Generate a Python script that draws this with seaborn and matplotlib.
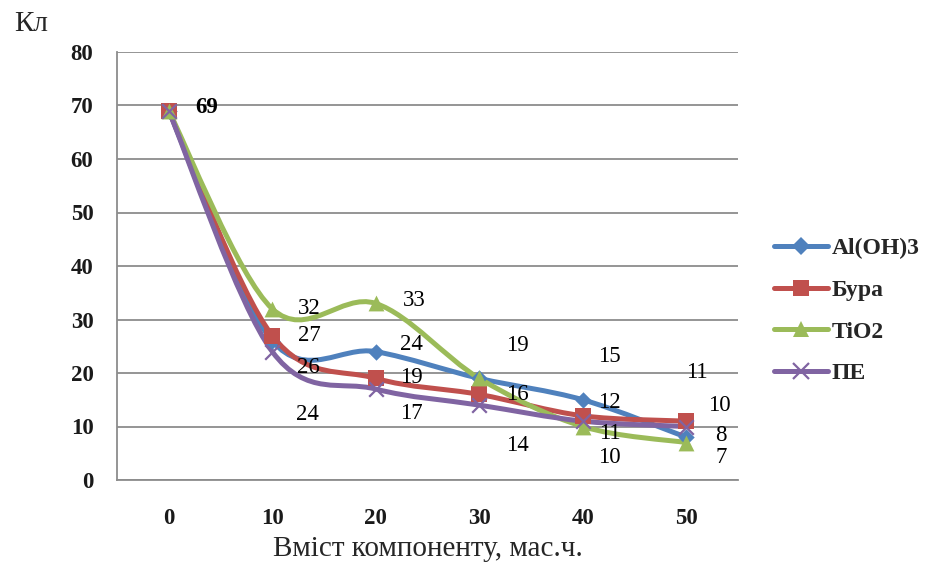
import numpy as np
import pandas as pd
import matplotlib
matplotlib.use("Agg")
import matplotlib.pyplot as plt
import seaborn as sns
from matplotlib.path import Path
from matplotlib.patches import PathPatch
from matplotlib.lines import Line2D

# ---------------- data ----------------
categories = ["0", "10", "20", "30", "40", "50"]
series_names = ["Al(OH)3", "Бура", "TiO2", "ПЕ"]
al_oh3 = [69, 26, 24, 19, 15, 8]
bura = [69, 27, 19, 16, 12, 11]
tio2 = [69, 32, 33, 19, 10, 7]
pe = [69, 24, 17, 14, 11, 10]
y_ticks = [0, 10, 20, 30, 40, 50, 60, 70, 80]

# data-label offsets from their points (pixels: dx right, dy up); None = no label
al_offsets = [(38, 3), (36, -27), (36, 7), (38, 33), (27, 43), (35, 2)]
bura_offsets = [None, (37, 0), (36, 1), (38, 0), (27, 13), (11, 49)]
tio2_offsets = [None, (37, 0), (38, 3), None, (27, -31), (35, -15)]
pe_offsets = [None, (35, -63), (36, -24), (38, -40), (27, -12), (33, 21)]

colors = ["#4F81BD", "#C0504D", "#9BBB59", "#8064A2"]
markers = ["D", "s", "^", "x"]
marker_sizes = [70, 120, 130, 110]

values = [al_oh3, bura, tio2, pe]
offsets = [al_offsets, bura_offsets, tio2_offsets, pe_offsets]

rows = []
for name, vals in zip(series_names, values):
    for i, v in enumerate(vals):
        rows.append({"pos": i, "cat": categories[i], "value": v, "series": name})
df = pd.DataFrame(rows)

# ---------------- style ----------------
sns.set_style("white")
plt.rcParams["font.family"] = ["Liberation Serif", "DejaVu Serif"]

fig = plt.figure(figsize=(9.31, 5.71), dpi=100)
ax = fig.add_axes([117 / 931, 1 - 480 / 571, (738 - 117) / 931, (480 - 52) / 571])

grid_c = "#8C8C8C"


def smooth_path(xs, ys):
    """Excel-like smoothed line: Catmull-Rom segments as cubic Bezier."""
    pts = np.column_stack([xs, ys]).astype(float)
    n = len(pts)
    verts = [pts[0]]
    codes = [Path.MOVETO]
    for i in range(n - 1):
        p0 = pts[i - 1] if i > 0 else pts[i]
        p1 = pts[i]
        p2 = pts[i + 1]
        p3 = pts[i + 2] if i + 2 < n else pts[i + 1]
        c1 = p1 + (p2 - p0) / 6.0
        c2 = p2 - (p3 - p1) / 6.0
        verts += [c1, c2, p2]
        codes += [Path.CURVE4] * 3
    return Path(verts, codes)


for k, name in enumerate(series_names):
    sub = df[df["series"] == name]
    patch = PathPatch(smooth_path(sub["pos"].values, sub["value"].values),
                      fill=False, edgecolor=colors[k], lw=3.6,
                      capstyle="round", joinstyle="round", zorder=2 + k * 0.1)
    ax.add_patch(patch)

for k, name in enumerate(series_names):
    sub = df[df["series"] == name]
    kw = dict(linewidth=1.6) if markers[k] == "x" else dict(linewidth=0)
    sns.scatterplot(data=sub, x="pos", y="value", marker=markers[k],
                    color=colors[k], s=marker_sizes[k], ax=ax, zorder=4 + k * 0.1,
                    legend=False, **kw)

# data labels
for k, name in enumerate(series_names):
    for i, v in enumerate(values[k]):
        off = offsets[k][i]
        if off is None:
            continue
        ax.annotate(str(v), xy=(i, v), xytext=off, textcoords="offset pixels",
                    ha="center", va="center", fontsize=16.5,
                    fontweight="bold" if i == 0 else "normal",
                    color="black", zorder=6)

# axes
ax.set_xlim(-0.5, len(categories) - 0.5)
ax.set_ylim(0, 80)
ax.set_yticks(y_ticks)
ax.set_yticklabels([str(t) for t in y_ticks], fontsize=16.5, fontweight="bold",
                   color="#1a1a1a")
ax.set_xticks(range(len(categories)))
ax.set_xticklabels(categories, fontsize=16.5, fontweight="bold", color="#1a1a1a")
ax.set_xticks(np.arange(-0.5, len(categories), 1.0), minor=True)
ax.tick_params(axis="x", which="major", length=0, pad=20)
ax.tick_params(axis="x", which="minor", length=8, width=1.3, color=grid_c,
               direction="out")
ax.tick_params(axis="y", which="major", length=8, width=1.3, color=grid_c,
               direction="out", pad=9)
ax.yaxis.grid(True, color=grid_c, lw=1.3)
ax.xaxis.grid(False)
ax.set_axisbelow(True)
for s in ["top", "right"]:
    ax.spines[s].set_visible(False)
for s in ["left", "bottom"]:
    ax.spines[s].set_color(grid_c)
    ax.spines[s].set_linewidth(1.3)

ax.set_xlabel("Вміст компоненту, мас.ч.", fontsize=21, labelpad=5)
ax.set_ylabel("")
fig.text(14 / 931, 1 - 24 / 571, "Кл", fontsize=21, ha="left", va="center")

handles = [Line2D([], [], color=colors[k], lw=3.6, marker=markers[k],
                  markersize=[9, 11, 11, 11][k],
                  markeredgewidth=1.6 if markers[k] == "x" else 0)
           for k in range(len(series_names))]
ax.legend(handles, series_names, loc="center left",
          bbox_to_anchor=(774 / 931, 1 - 311 / 571),
          bbox_transform=fig.transFigure, frameon=False,
          prop={"size": 17, "weight": "bold"}, handlelength=2.3,
          handletextpad=0.15, labelspacing=0.85, borderpad=0, borderaxespad=0)

fig.savefig("out.png", dpi=100)
